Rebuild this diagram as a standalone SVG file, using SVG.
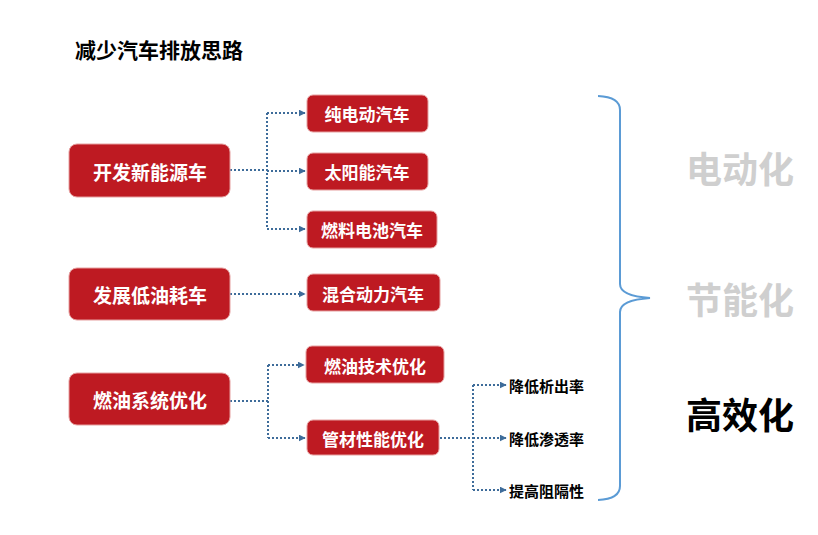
<svg xmlns="http://www.w3.org/2000/svg" width="818" height="535" viewBox="0 0 818 535">
<defs>
<style>
.bx{fill:#be1a22;stroke:#e6a0a0;stroke-width:1}
.t{font-family:"Noto Sans CJK SC",sans-serif;font-weight:bold;fill:#fff;text-anchor:middle;dominant-baseline:central}
.c{fill:none;stroke:#3e6c9a;stroke-width:2;stroke-dasharray:2 2}
.s{font-family:"Noto Sans CJK SC",sans-serif;font-weight:bold;font-size:15px;fill:#000;dominant-baseline:central}
.big{font-family:"Noto Sans CJK SC",sans-serif;font-weight:bold;font-size:36px;dominant-baseline:central}
</style>
<marker id="a" viewBox="0 0 10 10" refX="9" refY="5" markerWidth="3.5" markerHeight="3.5" orient="auto"><path d="M0,0L10,5L0,10z" fill="#3e6c9a"/></marker>
</defs>
<rect width="818" height="535" fill="#fff"/>
<text x="75" y="49" style="font-family:'Noto Sans CJK SC',sans-serif;font-weight:bold;font-size:21px;dominant-baseline:central">减少汽车排放思路</text>
<g id="connectors">
<path class="c" d="M230,170H267M267,113V229"/>
<path class="c" d="M267,113H305" marker-end="url(#a)"/>
<path class="c" d="M267,171H305" marker-end="url(#a)"/>
<path class="c" d="M267,229H305" marker-end="url(#a)"/>
<path class="c" d="M230,294H305" marker-end="url(#a)"/>
<path class="c" d="M230,401H268M268,365V438"/>
<path class="c" d="M268,365H304" marker-end="url(#a)"/>
<path class="c" d="M268,438H305" marker-end="url(#a)"/>
<path class="c" d="M440,438H473M473,385V490"/>
<path class="c" d="M473,385H506" marker-end="url(#a)"/>
<path class="c" d="M473,438H506" marker-end="url(#a)"/>
<path class="c" d="M473,490H506" marker-end="url(#a)"/>
<path d="M598,96Q620,97 620,110V284Q620,296 650,298Q620,300 620,312V486Q620,499 598,500" fill="none" stroke="#5b9bd5" stroke-width="2"/>
</g>
<g id="n1"><rect class="bx" x="69" y="144" width="161" height="53" rx="8"/><text class="t" x="150" y="171" font-size="19">开发新能源车</text></g>
<g id="n2"><rect class="bx" x="69" y="268" width="161" height="52" rx="8"/><text class="t" x="150" y="294" font-size="19">发展低油耗车</text></g>
<g id="n3"><rect class="bx" x="69" y="373" width="161" height="52" rx="8"/><text class="t" x="150" y="399" font-size="19">燃油系统优化</text></g>
<g id="n4"><rect class="bx" x="307" y="95" width="121" height="37" rx="6"/><text class="t" x="367" y="113" font-size="17">纯电动汽车</text></g>
<g id="n5"><rect class="bx" x="307" y="153" width="121" height="37" rx="6"/><text class="t" x="367" y="171" font-size="17">太阳能汽车</text></g>
<g id="n6"><rect class="bx" x="307" y="211" width="130" height="37" rx="6"/><text class="t" x="372" y="229" font-size="17">燃料电池汽车</text></g>
<g id="n7"><rect class="bx" x="307" y="274" width="133" height="37" rx="6"/><text class="t" x="373" y="293" font-size="17">混合动力汽车</text></g>
<g id="n8"><rect class="bx" x="306" y="346" width="138" height="37" rx="6"/><text class="t" x="375" y="365" font-size="17">燃油技术优化</text></g>
<g id="n9"><rect class="bx" x="307" y="420" width="132" height="35" rx="6"/><text class="t" x="373" y="438" font-size="17">管材性能优化</text></g>
<g id="n10"><text class="s" x="509" y="385">降低析出率</text></g>
<g id="n11"><text class="s" x="509" y="438">降低渗透率</text></g>
<g id="n12"><text class="s" x="509" y="490">提高阻隔性</text></g>
<g id="n13"><text class="big" x="686" y="167" fill="#cfcfcf">电动化</text></g>
<g id="n14"><text class="big" x="686" y="298" fill="#cfcfcf">节能化</text></g>
<g id="n15"><text class="big" x="686" y="413" fill="#000">高效化</text></g>
</svg>
